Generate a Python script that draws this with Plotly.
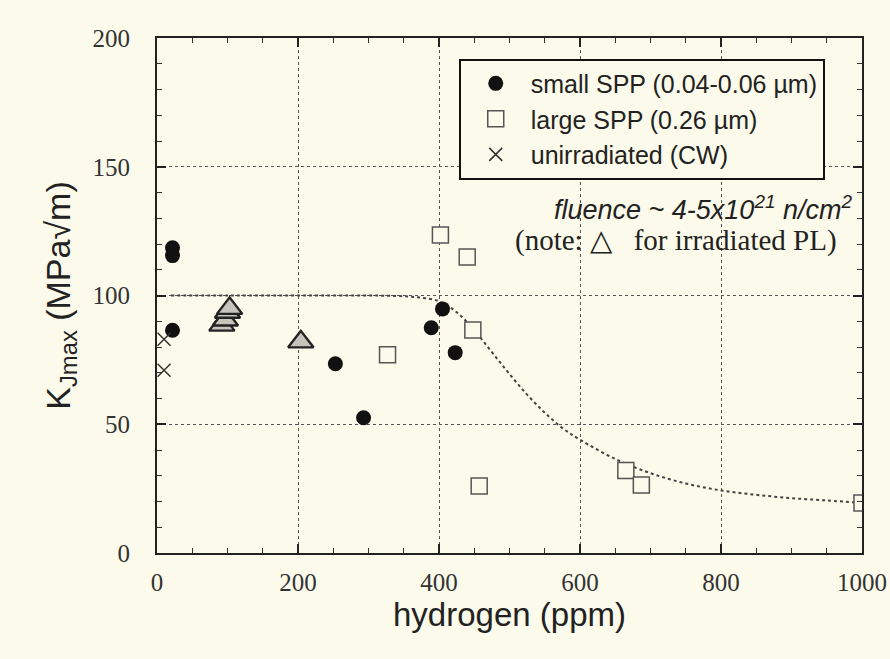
import plotly.graph_objects as go

# ---- data ----
small_x = [22, 22, 22, 253, 293, 389, 405, 423]
small_y = [118.5, 115.5, 86.5, 73.5, 52.5, 87.5, 94.8, 77.8]

large_x = [402, 440, 327, 448, 457, 665, 687, 1000]
large_y = [123.5, 115, 77, 86.6, 26, 32, 26.4, 19.4]

unirr_x = [10, 10]
unirr_y = [83, 71]

tri_x = [92, 97, 100, 103, 204]
tri_y = [88.5, 90.5, 93.5, 95, 82]

curve_x = [20, 100, 200, 300, 340, 370, 400, 425, 450, 475, 500, 525, 550, 575,
           600, 650, 700, 750, 800, 850, 900, 950, 1000]
curve_y = [100, 100, 100, 100, 99.8, 99.3, 97.8, 93.5, 86.5, 78, 69.5, 61.5, 54.5, 48.5,
           44, 36.5, 31, 27, 24.3, 22.6, 21.3, 20.4, 19.5]

x_ticks = [0, 200, 400, 600, 800, 1000]
y_ticks = [0, 50, 100, 150, 200]

BG = "#FCFAEA"

fig = go.Figure()

fig.add_trace(go.Scatter(x=curve_x, y=curve_y, mode="lines", showlegend=False,
                         line=dict(color="#444444", width=2, dash="dot"),
                         line_shape="spline", hoverinfo="skip"))

fig.add_trace(go.Scatter(x=small_x, y=small_y, mode="markers",
                         name="small SPP (0.04-0.06 µm)",
                         marker=dict(symbol="circle", size=15, color="#111111",
                                     line=dict(width=0))))
fig.add_trace(go.Scatter(x=large_x, y=large_y, mode="markers",
                         name="large SPP (0.26 µm)",
                         marker=dict(symbol="square", size=16, color=BG,
                                     line=dict(width=1.5, color="#555555"))))
fig.add_trace(go.Scatter(x=unirr_x, y=unirr_y, mode="markers",
                         name="unirradiated (CW)",
                         marker=dict(symbol="x-thin", size=13,
                                     line=dict(width=1.5, color="#333333"))))
fig.add_trace(go.Scatter(x=tri_x, y=tri_y, mode="markers", showlegend=False,
                         marker=dict(symbol="triangle-up", size=22, color="#C4C4BC",
                                     line=dict(width=2.4, color="#222222"))))

axis_common = dict(
    showline=True, linecolor="#222222", linewidth=2, mirror="ticks",
    ticks="inside", ticklen=9, tickwidth=1.5, tickcolor="#222222",
    showgrid=True, gridcolor="#555555", gridwidth=1, griddash="dot",
    zeroline=False, automargin=False,
    tickfont=dict(family="Liberation Serif, Times New Roman, serif", size=25, color="#333333"),
    minor=dict(ticks="inside", ticklen=5, tickwidth=1, tickcolor="#333333", showgrid=False),
)

fig.update_xaxes(range=[0, 1000], tickvals=x_ticks, ticklabelstandoff=6,
                 minor_dtick=50, **axis_common,
                 title=dict(text="hydrogen (ppm)", standoff=6,
                            font=dict(family="Liberation Sans, Arial, sans-serif",
                                      size=33, color="#222222")))
fig.update_yaxes(range=[0, 200], tickvals=y_ticks, ticklabelstandoff=20,
                 minor_dtick=10, **axis_common,
                 title=dict(text="K<sub>Jmax</sub> (MPa√m)", standoff=12,
                            font=dict(family="Liberation Sans, Arial, sans-serif",
                                      size=34, color="#222222")))

fig.add_annotation(x=0.988, y=0.670, xref="paper", yref="paper", xanchor="right",
                   yanchor="middle", showarrow=False,
                   text="<i>fluence ~ 4-5x10<sup>21</sup> n/cm<sup>2</sup></i>",
                   font=dict(family="Liberation Sans, Arial, sans-serif", size=27,
                             color="#222222"))
fig.add_annotation(x=0.968, y=0.606, xref="paper", yref="paper", xanchor="right",
                   yanchor="middle", showarrow=False,
                   text="(note: △   for irradiated PL)",
                   font=dict(family="Liberation Serif, Times New Roman, serif", size=29,
                             color="#222222"))

fig.update_layout(
    width=890, height=659,
    margin=dict(l=157, r=28, t=38, b=106),
    paper_bgcolor=BG, plot_bgcolor=BG,
    legend=dict(x=0.428, y=0.96, xanchor="left", yanchor="top",
                bgcolor=BG, bordercolor="#111111", borderwidth=2,
                font=dict(family="Liberation Sans, Arial, sans-serif", size=25,
                          color="#222222"),
                itemwidth=60),
    showlegend=True,
)

fig.write_html("out.html")
